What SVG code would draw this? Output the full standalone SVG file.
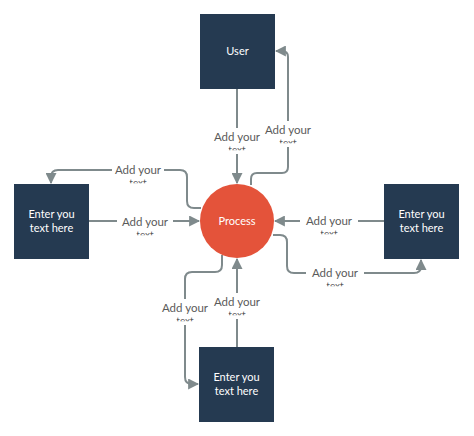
<svg xmlns="http://www.w3.org/2000/svg" width="474" height="436" viewBox="0 0 474 436">
<style>
.box{fill:#253a51}
.nt{fill:#fff;font-family:Lato,"Liberation Sans",sans-serif;font-size:11px;text-anchor:middle}
.ln{fill:none;stroke:#7f8a8c;stroke-width:2}
.lb{fill:#5a5a5a;font-family:Lato,"Liberation Sans",sans-serif;font-size:11.5px;text-anchor:middle}
.lb2{fill:#5a5a5a;font-family:Lato,"Liberation Sans",sans-serif;font-size:10px;text-anchor:middle}
.bg{fill:#fff}
</style>
<defs>
<marker id="ar" viewBox="0 0 10 10" refX="9" refY="5" markerWidth="5.5" markerHeight="5.5" orient="auto" markerUnits="strokeWidth">
<path d="M0,0 L10,5 L0,10 z" fill="#7f8a8c"/>
</marker>
<clipPath id="half" clipPathUnits="objectBoundingBox"><rect x="0" y="0" width="1" height="0.6"/></clipPath>
</defs>
<rect width="474" height="436" fill="#fff"/>
<g id="connectors">
<path class="ln" d="M237,89 V183" marker-end="url(#ar)"/>
<path class="ln" d="M251,185 V179 Q251,173 257,173 H282 Q288,173 288,167 V57 Q288,51 282,51 H276" marker-end="url(#ar)"/>
<path class="ln" d="M89,221 H199" marker-end="url(#ar)"/>
<path class="ln" d="M201,208 H194 Q187,208 187,201 V177 Q187,170 180,170 H58 Q51,170 51,177 V183" marker-end="url(#ar)"/>
<path class="ln" d="M384,221 H275" marker-end="url(#ar)"/>
<path class="ln" d="M273,235 H280 Q287,235 287,242 V266 Q287,273 294,273 H414 Q421,273 421,266 V260" marker-end="url(#ar)"/>
<path class="ln" d="M237,347 V259" marker-end="url(#ar)"/>
<path class="ln" d="M222,255 V265 Q222,272 215,272 H192 Q185,272 185,279 V377 Q185,384 192,384 H198" marker-end="url(#ar)"/>
<rect class="bg" x="213" y="128" width="48" height="26"/>
<text class="lb" x="237" y="141">Add your</text>
<text class="lb2" x="237" y="153" clip-path="url(#half)">text</text>
<rect class="bg" x="264" y="121" width="48" height="26"/>
<text class="lb" x="288" y="134">Add your</text>
<text class="lb2" x="288" y="146" clip-path="url(#half)">text</text>
<rect class="bg" x="112" y="159" width="52" height="26"/>
<text class="lb" x="138" y="174">Add your</text>
<text class="lb2" x="138" y="186" clip-path="url(#half)">text</text>
<rect class="bg" x="117" y="212" width="56" height="26"/>
<text class="lb" x="145" y="226">Add your</text>
<text class="lb2" x="145" y="238" clip-path="url(#half)">text</text>
<rect class="bg" x="300" y="212" width="58" height="26"/>
<text class="lb" x="329" y="225">Add your</text>
<text class="lb2" x="329" y="237" clip-path="url(#half)">text</text>
<rect class="bg" x="306" y="263" width="58" height="26"/>
<text class="lb" x="335" y="277">Add your</text>
<text class="lb2" x="335" y="289" clip-path="url(#half)">text</text>
<rect class="bg" x="213" y="293" width="48" height="26"/>
<text class="lb" x="237" y="306">Add your</text>
<text class="lb2" x="237" y="318" clip-path="url(#half)">text</text>
<rect class="bg" x="161" y="299" width="48" height="26"/>
<text class="lb" x="185" y="312">Add your</text>
<text class="lb2" x="185" y="324" clip-path="url(#half)">text</text>
</g>
<g id="user">
<rect class="box" x="200" y="14" width="75" height="75"/>
<text class="nt" x="237.5" y="55">User</text>
</g>
<g id="left">
<rect class="box" x="14" y="184" width="75" height="75"/>
<text class="nt" x="51.5" y="218">Enter you</text>
<text class="nt" x="51.5" y="232">text here</text>
</g>
<g id="right">
<rect class="box" x="384" y="184" width="75" height="75"/>
<text class="nt" x="421.5" y="218">Enter you</text>
<text class="nt" x="421.5" y="232">text here</text>
</g>
<g id="bottom">
<rect class="box" x="199" y="347" width="75" height="75"/>
<text class="nt" x="236.5" y="381">Enter you</text>
<text class="nt" x="236.5" y="395">text here</text>
</g>
<g id="process">
<circle cx="237" cy="221" r="37" fill="#e4533a"/>
<text class="nt" x="237" y="225">Process</text>
</g>
</svg>
